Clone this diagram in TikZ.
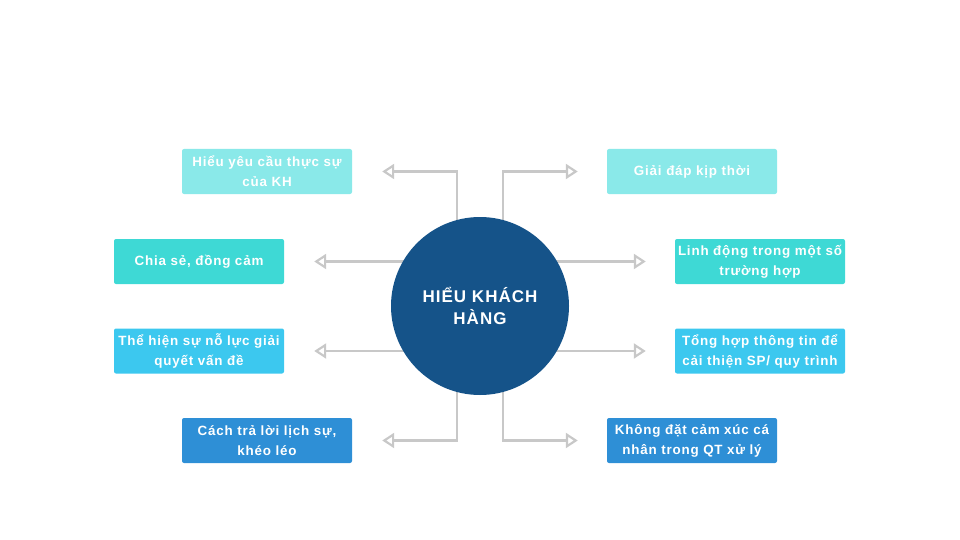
\documentclass[tikz,border=0pt]{standalone}
\usepackage{fontspec}
\setmainfont{Liberation Sans}[LetterSpace=6]
\usepackage{xcolor}
\usetikzlibrary{arrows.meta,positioning,backgrounds,calc}

\definecolor{hubblue}{HTML}{155389}
\definecolor{palecyan}{HTML}{8AE9E9}
\definecolor{turq}{HTML}{3ED9D5}
\definecolor{skyblue}{HTML}{3CC8EF}
\definecolor{midblue}{HTML}{2E8FD6}
\definecolor{linkgray}{HTML}{C8C8C8}

\begin{document}
\begin{tikzpicture}[x=1pt, y=-1pt,
  >={Triangle[open, length=12pt, width=15pt]},
  every node/.style={font=\bfseries\fontsize{13.4}{20}\selectfont, text=white},
  box/.style={rounded corners=2pt, minimum width=170pt, minimum height=45pt, align=center, inner sep=0pt},
  hub/.style={circle, fill=hubblue, minimum size=178pt, align=center, inner sep=0pt,
    font=\bfseries\fontsize{17}{22}\selectfont},
  arr/.style={->, line width=2.2pt, draw=linkgray},
]
  \useasboundingbox (0,0) rectangle (960,540);

  \node[hub] (H) at (480,306) {HIỂU KHÁCH\\HÀNG};

  % left column
  \node[box, fill=palecyan] (HY) at (267,171.5) {Hiểu yêu cầu thực sự\\của KH};
  \node[box, fill=turq]     (CS) at (199,261.5) {\raisebox{-1.5pt}{Chia sẻ, đồng cảm}};
  \node[box, fill=skyblue]  (TH) at (199,351)   {Thể hiện sự nỗ lực giải\\quyết vấn đề};
  \node[box, fill=midblue]  (CT) at (267,440.5) {Cách trả lời lịch sự,\\khéo léo};

  % right column
  \node[box, fill=palecyan] (GD) at (692,171.5) {\raisebox{-1.5pt}{Giải đáp kịp thời}};
  \node[box, fill=turq]     (LD) at (760,261.5) {Linh động trong một số\\trường hợp};
  \node[box, fill=skyblue]  (TT) at (760,351)   {Tổng hợp thông tin để\\cải thiện SP/ quy trình};
  \node[box, fill=midblue]  (KD) at (692,440.5) {Không đặt cảm xúc cá\\nhân trong QT xử lý};

  % arrow tips, a little off the boxes
  \coordinate (HYt) at ([xshift=30]HY.east);
  \coordinate (CSt) at ([xshift=30]CS.east);
  \coordinate (THt) at ([xshift=30]TH.east);
  \coordinate (CTt) at ([xshift=30]CT.east);
  \coordinate (GDt) at ([xshift=-29]GD.west);
  \coordinate (LDt) at ([xshift=-29]LD.west);
  \coordinate (TTt) at ([xshift=-29]TT.west);
  \coordinate (KDt) at ([xshift=-29]KD.west);

  \begin{scope}[on background layer]
    \draw[arr] ([xshift=-23]H.center) |- (HYt);
    \draw[arr] (H.center |- CSt) -- (CSt);
    \draw[arr] (H.center |- THt) -- (THt);
    \draw[arr] ([xshift=-23]H.center) |- (CTt);
    \draw[arr] ([xshift=23]H.center) |- (GDt);
    \draw[arr] (H.center |- LDt) -- (LDt);
    \draw[arr] (H.center |- TTt) -- (TTt);
    \draw[arr] ([xshift=23]H.center) |- (KDt);
  \end{scope}
\end{tikzpicture}
\end{document}
